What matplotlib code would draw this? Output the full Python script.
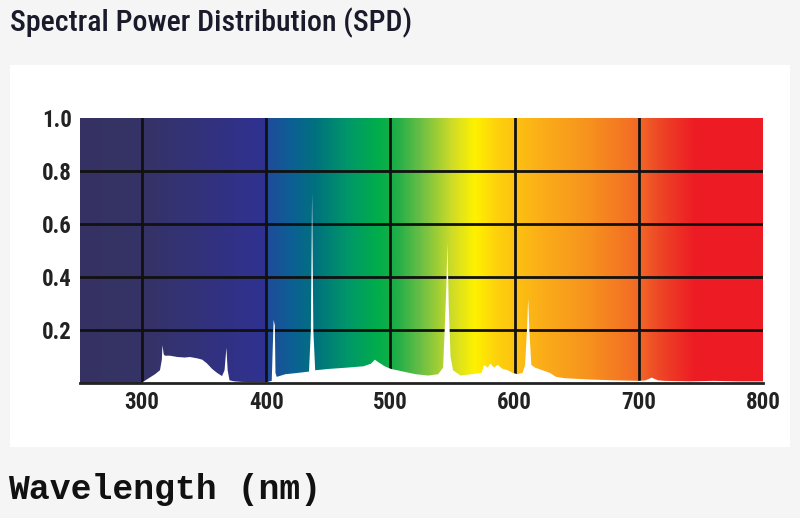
import matplotlib.pyplot as plt
import numpy as np
from matplotlib.colors import LinearSegmentedColormap
from matplotlib.patches import Rectangle

# Spectrum (wavelength in nm, relative power)
wavelength = [300, 305, 310, 314, 315.5, 316, 317, 318, 322, 328, 334, 338, 344, 348,
              352, 356, 360, 364, 366, 367.5, 368.5, 370, 374, 380, 390, 400,
              404, 405.5, 406.5, 407, 408, 415, 425, 434, 435.5, 436.5, 437.5, 439,
              450, 465, 478, 484, 487, 490, 495, 500, 510, 520, 530, 538,
              542, 543.5, 544.5, 545.5, 546.5, 548, 550, 556, 565, 573, 575,
              578, 580, 583, 586, 590, 594, 598, 602, 606, 608, 609.5, 610.5, 611.5, 613,
              616, 622, 628, 633, 640, 660, 680, 700, 705, 710, 715, 720, 740, 760, 780, 800]
power = [0.005, 0.02, 0.035, 0.05, 0.09, 0.145, 0.11, 0.105, 0.105, 0.10, 0.098, 0.10, 0.095, 0.09,
         0.075, 0.055, 0.04, 0.028, 0.05, 0.135, 0.05, 0.012, 0.008, 0.006, 0.005, 0.005,
         0.01, 0.24, 0.22, 0.04, 0.025, 0.035, 0.04, 0.045, 0.2, 0.72, 0.2, 0.05,
         0.055, 0.06, 0.065, 0.075, 0.09, 0.08, 0.065, 0.055, 0.045, 0.035, 0.03, 0.035,
         0.06, 0.23, 0.35, 0.53, 0.3, 0.1, 0.05, 0.03, 0.035, 0.04, 0.07,
         0.06, 0.075, 0.06, 0.07, 0.055, 0.05, 0.04, 0.035, 0.04, 0.07, 0.2, 0.32, 0.2, 0.07,
         0.06, 0.05, 0.04, 0.025, 0.02, 0.015, 0.012, 0.01, 0.012, 0.022, 0.012, 0.01, 0.008, 0.01, 0.008, 0.008]

# background colour bands across the wavelength range
band_nm = [250, 300, 399, 401, 420, 440, 465, 490, 505, 525, 550, 568, 585, 620,
           660, 700, 715, 745, 800]
band_col = ['#353263', '#363366', '#2f3192', '#1f4c9a', '#0d5f94', '#00727e', '#00966a',
            '#00ae4a', '#1fae48', '#6cbf45', '#cfdc27', '#fff200', '#fed20c', '#fbaf18',
            '#f7921e', '#f26a25', '#ee4a27', '#ed1c24', '#ed1c24']

x_ticks = [300, 400, 500, 600, 700, 800]
y_ticks = [0.2, 0.4, 0.6, 0.8, 1.0]

narrow = ['Roboto Condensed', 'DejaVu Sans']

fig = plt.figure(figsize=(8, 5.18), dpi=100)
fig.patch.set_facecolor('#f5f5f5')
fig.patches.append(Rectangle((10 / 800, 1 - 447 / 518), 780 / 800, 382 / 518,
                             transform=fig.transFigure, facecolor='white',
                             edgecolor='none', zorder=-5))

ax = fig.add_axes([80 / 800, 1 - 383 / 518, 683 / 800, 265 / 518])

pos = [(w - band_nm[0]) / (band_nm[-1] - band_nm[0]) for w in band_nm]
cmap = LinearSegmentedColormap.from_list('spd', list(zip(pos, band_col)), N=1024)
grad = np.linspace(0, 1, 1100).reshape(1, -1)
ax.imshow(grad, cmap=cmap, aspect='auto', extent=[250, 800, 0, 1], zorder=0)

ax.fill_between(wavelength, 0, power, color='white', lw=0, zorder=2)

for x in x_ticks[:-1]:
    ax.axvline(x, color='#111111', lw=2, zorder=1)
for y in y_ticks[:-1]:
    ax.axhline(y, color='#111111', lw=2, zorder=1)

ax.set_xlim(250, 800)
ax.set_ylim(0, 1)
ax.set_xticks(x_ticks)
ax.set_yticks(y_ticks)
ax.set_yticklabels(['0.2', '0.4', '0.6', '0.8', '1.0'])
for s in ['top', 'right', 'left']:
    ax.spines[s].set_visible(False)
ax.spines['bottom'].set_linewidth(2)
ax.spines['bottom'].set_color('#222222')
ax.tick_params(length=0, pad=6)
for lab in ax.get_xticklabels() + ax.get_yticklabels():
    lab.set_fontfamily(narrow)
    lab.set_fontweight('bold')
    lab.set_fontsize(16.5)
    lab.set_color('#222222')

fig.text(10 / 800, 1 - 23 / 518, 'Spectral Power Distribution (SPD)',
         family=narrow, fontweight='medium', fontsize=21.5,
         color='#1a1a2a', va='center', ha='left')
fig.text(8 / 800, 1 - 490 / 518, 'Wavelength (nm)',
         family=['Liberation Mono', 'DejaVu Sans Mono'], fontweight='bold', fontsize=25,
         color='#111111', va='center', ha='left')

fig.savefig('out.png', dpi=100, facecolor=fig.get_facecolor())
